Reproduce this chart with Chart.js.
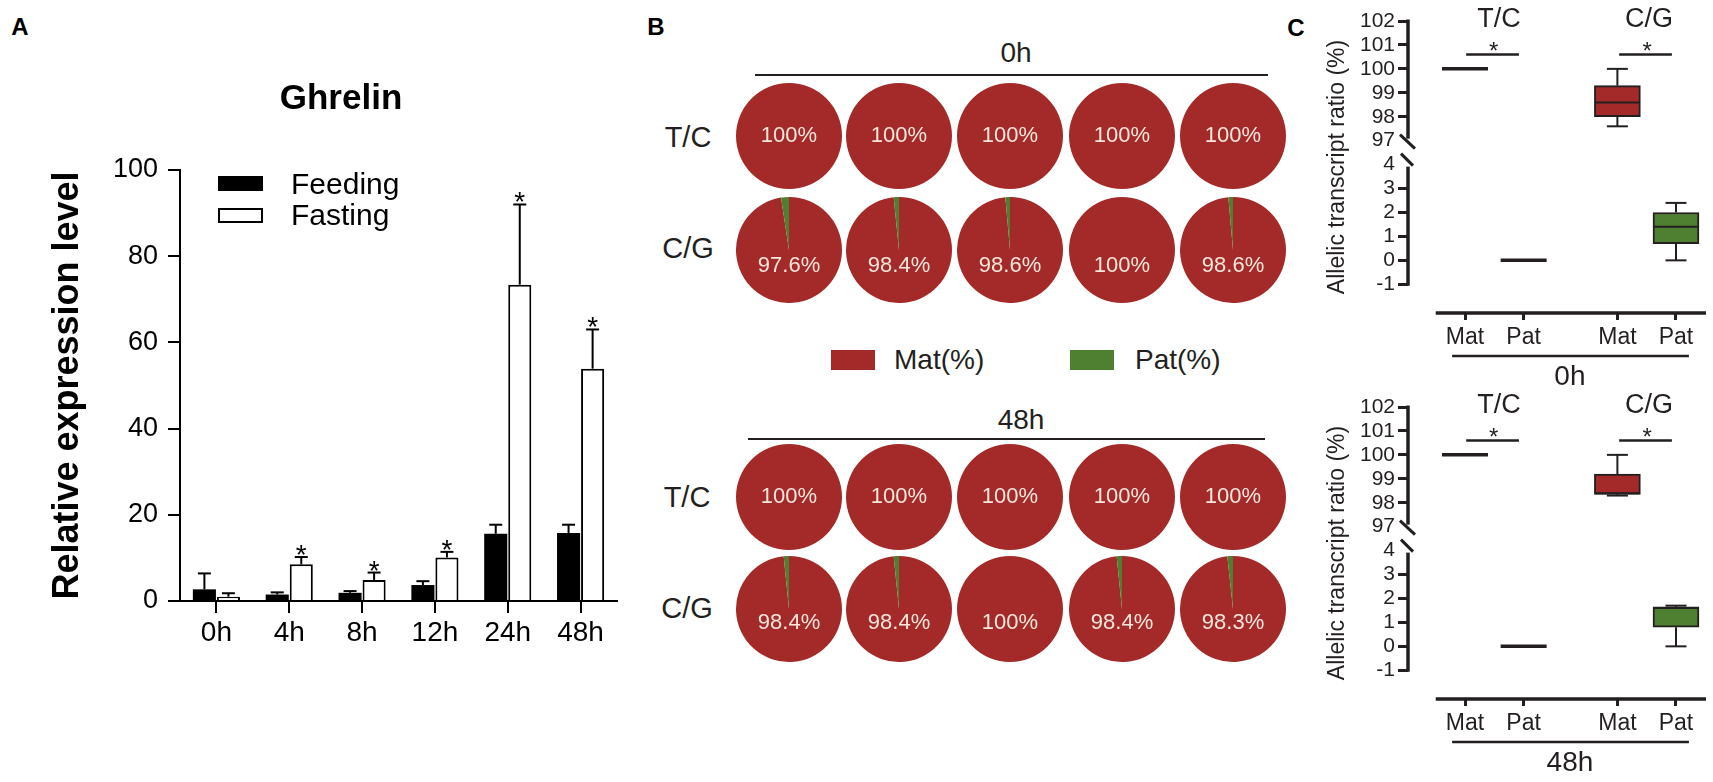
<!DOCTYPE html>
<html>
<head>
<meta charset="utf-8">
<title>Ghrelin expression and allelic transcript ratio</title>
<script src="https://cdn.jsdelivr.net/npm/chart.js@4.4.1/dist/chart.umd.min.js"></script>
<style>
  body { margin: 0; background: #fff; }
  #page { position: relative; width: 1713px; height: 782px; overflow: hidden;
          font-family: 'Liberation Sans', Arial, Helvetica, sans-serif; color: #231f20; }
  canvas { position: absolute; }
  .txt { position: absolute; line-height: 1; white-space: nowrap; transform: translate(-50%, -50%); }
  .lbl { position: absolute; line-height: 1; white-space: nowrap; transform: translateY(-50%); }
  .rule { position: absolute; height: 2px; background: #231f20; }
  .key { position: absolute; width: 44px; height: 20px; }
  .panel { font-weight: bold; font-size: 24px; color: #000; }
</style>
</head>
<body>
<div id="page">
  <div class="txt panel" style="left:20px;top:27px">A</div>
  <div class="txt panel" style="left:656px;top:27px">B</div>
  <div class="txt panel" style="left:1296px;top:28px">C</div>

  <canvas id="barA" width="640" height="782" style="left:0;top:0"></canvas>

  <!-- panel B headings -->
  <div class="txt" style="left:1016px;top:53px;font-size:28px">0h</div>
  <div class="rule" style="left:755px;top:74px;width:513px"></div>
  <div class="txt" style="left:688px;top:137px;font-size:29px">T/C</div>
  <div class="txt" style="left:688px;top:248px;font-size:29px">C/G</div>

  <div class="key" style="left:831px;top:350px;background:#a42a29"></div>
  <div class="lbl" style="left:894px;top:360px;font-size:28px">Mat(%)</div>
  <div class="key" style="left:1070px;top:350px;background:#4f7f30"></div>
  <div class="lbl" style="left:1135px;top:360px;font-size:28px">Pat(%)</div>

  <div class="txt" style="left:1021px;top:420px;font-size:28px">48h</div>
  <div class="rule" style="left:748px;top:438px;width:517px"></div>
  <div class="txt" style="left:687px;top:497px;font-size:29px">T/C</div>
  <div class="txt" style="left:687px;top:608px;font-size:29px">C/G</div>

  <canvas id="boxTop" width="433" height="392" style="left:1280px;top:0"></canvas>
  <canvas id="boxBottom" width="433" height="392" style="left:1280px;top:386px"></canvas>
</div>

<script>
// ---------- data: panel A (Ghrelin relative expression) ----------
const timeLabels = ['0h', '4h', '8h', '12h', '24h', '48h'];
const feeding    = [2.7, 1.5, 1.9, 3.7, 15.6, 15.8];
const feedingErr = [3.7, 0.5, 0.4, 0.9, 2.1, 1.9];
const fasting    = [1.0, 8.5, 4.9, 10.1, 73.4, 53.9];
const fastingErr = [0.8, 1.7, 1.7, 1.3, 18.6, 9.1];
const fastingSig = [false, true, true, true, true, true];

// ---------- data: panel B (maternal share per sample, %) ----------
const matTC0h  = [100, 100, 100, 100, 100];
const matCG0h  = [97.6, 98.4, 98.6, 100, 98.6];
const matTC48h = [100, 100, 100, 100, 100];
const matCG48h = [98.4, 98.4, 100, 98.4, 98.3];

// ---------- data: panel C (box summaries) ----------
const boxLabels = ['Mat', 'Pat', 'Mat', 'Pat'];
const boxPos    = [0, 1, 2.6, 3.6];
const box0hMin  = [100, 0, 97.6, 0];
const box0hQ1   = [100, 0, 98.0, 0.7];
const box0hMed  = [100, 0, 98.6, 1.4];
const box0hQ3   = [100, 0, 99.3, 2.0];
const box0hMax  = [100, 0, 100, 2.4];
const box48hMin = [100, 0, 98.3, 0];
const box48hQ1  = [100, 0, 98.35, 0.8];
const box48hMed = [100, 0, 98.4, 1.6];
const box48hQ3  = [100, 0, 99.2, 1.65];
const box48hMax = [100, 0, 100, 1.7];

const FONT = "'Liberation Sans', Arial, Helvetica, sans-serif";
const DARK = '#231f20';
const MAT_RED = '#a42a29';
const PAT_GREEN = '#4f7f30';

Chart.defaults.font.family = FONT;
Chart.defaults.animation = false;

function seg(ctx, x1, y1, x2, y2, w) {
    ctx.lineWidth = w;
    ctx.beginPath();
    ctx.moveTo(x1, y1);
    ctx.lineTo(x2, y2);
    ctx.stroke();
}

// ==========================================
// PANEL A: grouped bars with error bars
// ==========================================
const panelADecor = {
    id: 'panelADecor',
    afterDatasetsDraw(chart) {
        const { ctx, scales: { y } } = chart;
        ctx.save();
        ctx.strokeStyle = '#000';
        ctx.fillStyle = '#000';
        [[feeding, feedingErr], [fasting, fastingErr]].forEach(([vals, errs], di) => {
            chart.getDatasetMeta(di).data.forEach((bar, i) => {
                const top = y.getPixelForValue(vals[i]);
                const end = y.getPixelForValue(vals[i] + errs[i]);
                seg(ctx, bar.x, top, bar.x, end, 2);
                seg(ctx, bar.x - 6.5, end, bar.x + 6.5, end, 2);
                if (di === 1 && fastingSig[i]) {
                    ctx.font = `28px ${FONT}`;
                    ctx.textAlign = 'center';
                    ctx.textBaseline = 'alphabetic';
                    ctx.fillText('*', bar.x, end + 7);
                }
            });
        });

        // title
        ctx.font = `bold 35px ${FONT}`;
        ctx.textAlign = 'center';
        ctx.textBaseline = 'middle';
        ctx.fillText('Ghrelin', 341, 99);

        // legend inside the plot
        ctx.fillRect(218, 176, 45, 15);
        ctx.lineWidth = 2;
        ctx.strokeRect(219, 209, 43, 13);
        ctx.font = `30px ${FONT}`;
        ctx.textAlign = 'left';
        ctx.fillText(chart.data.datasets[0].label, 291, 186);
        ctx.fillText(chart.data.datasets[1].label, 291, 217);
        ctx.restore();
    }
};

new Chart(document.getElementById('barA'), {
    type: 'bar',
    data: {
        labels: timeLabels,
        datasets: [
            { label: 'Feeding', data: feeding, backgroundColor: '#000', borderWidth: 0 },
            { label: 'Fasting', data: fasting, backgroundColor: '#fff', borderColor: '#000', borderWidth: 2 }
        ]
    },
    options: {
        responsive: false,
        events: [],
        layout: { padding: { left: 0, top: 170, right: 23, bottom: 121 } },
        datasets: { bar: { categoryPercentage: 0.66, barPercentage: 0.96 } },
        plugins: { legend: { display: false }, tooltip: { enabled: false } },
        scales: {
            x: {
                grid: { offset: false, drawOnChartArea: false, tickLength: 12, color: '#000', lineWidth: 2 },
                border: { color: '#000', width: 2 },
                ticks: { color: '#000', font: { size: 28 }, padding: 3, maxRotation: 0 },
                afterFit: s => { s.height = 60; }
            },
            y: {
                min: 0, max: 100,
                ticks: { stepSize: 20, color: '#000', font: { size: 27 }, padding: 10 },
                grid: { drawOnChartArea: false, tickLength: 12, color: '#000', lineWidth: 2 },
                border: { color: '#000', width: 2 },
                title: {
                    display: true, text: 'Relative expression level', color: '#000',
                    font: { size: 36, weight: 'bold' }, padding: { top: 46, bottom: 0 }
                },
                afterFit: s => { s.width = 180; }
            }
        }
    },
    plugins: [panelADecor]
});

// ==========================================
// PANEL B: pie grid
// ==========================================
const pieX = [789, 899, 1010, 1122, 1233];
const pieRows = [
    { cy: 136, mats: matTC0h, dy: 0 },
    { cy: 250, mats: matCG0h, dy: 16 },
    { cy: 497, mats: matTC48h, dy: 0 },
    { cy: 609, mats: matCG48h, dy: 14 }
];

function pieLabel(text, dy) {
    return {
        id: 'pieLabel',
        afterDatasetsDraw(chart) {
            const { ctx, chartArea } = chart;
            ctx.save();
            ctx.font = `22px ${FONT}`;
            ctx.fillStyle = '#f6e6dc';
            ctx.textAlign = 'center';
            ctx.textBaseline = 'middle';
            ctx.fillText(text, (chartArea.left + chartArea.right) / 2, (chartArea.top + chartArea.bottom) / 2 + dy);
            ctx.restore();
        }
    };
}

const page = document.getElementById('page');
pieRows.forEach(row => {
    row.mats.forEach((mat, i) => {
        const cv = document.createElement('canvas');
        cv.width = 106;
        cv.height = 106;
        cv.style.left = (pieX[i] - 53) + 'px';
        cv.style.top = (row.cy - 53) + 'px';
        page.appendChild(cv);
        new Chart(cv, {
            type: 'pie',
            data: {
                labels: ['Mat(%)', 'Pat(%)'],
                datasets: [{
                    data: [mat, 100 - mat],
                    backgroundColor: [MAT_RED, PAT_GREEN],
                    borderWidth: 0, hoverOffset: 0
                }]
            },
            options: {
                responsive: false, events: [],
                layout: { padding: 0 },
                plugins: { legend: { display: false }, tooltip: { enabled: false } }
            },
            plugins: [pieLabel(mat + '%', row.dy)]
        });
    });
});

// ==========================================
// PANEL C: box plots on a broken y axis
// ==========================================
const LinearBase = Chart.LinearScale || Chart.registry.getScale('linear');

// values above 50 sit on the upper segment (97-102), placed one unit above 4
class BrokenScale extends LinearBase {
    static id = 'broken';
    static defaults = LinearBase.defaults;
    getPixelForValue(value) {
        return super.getPixelForValue(value > 50 ? value - 92 : value);
    }
}
Chart.register(BrokenScale);

const yTicks = [-1, 0, 1, 2, 3, 4, 97, 98, 99, 100, 101, 102];
const boxFill = ['rgba(0,0,0,0)', 'rgba(0,0,0,0)', MAT_RED, PAT_GREEN];

function makeBoxChart(id, st, groupName) {
    const decor = {
        id: 'boxDecor',
        afterDatasetsDraw(chart) {
            const { ctx, chartArea, scales: { x, y } } = chart;
            ctx.save();
            ctx.strokeStyle = DARK;
            ctx.fillStyle = DARK;

            boxPos.forEach((p, i) => {
                const cx = x.getPixelForValue(p);
                const md = y.getPixelForValue(st.med[i]);
                if (st.q1[i] === st.q3[i]) {
                    seg(ctx, cx - 23, md, cx + 23, md, 3.5);
                    return;
                }
                const q1 = y.getPixelForValue(st.q1[i]);
                const q3 = y.getPixelForValue(st.q3[i]);
                const lo = y.getPixelForValue(st.min[i]);
                const hi = y.getPixelForValue(st.max[i]);
                seg(ctx, cx, q3, cx, hi, 2);
                seg(ctx, cx - 10.5, hi, cx + 10.5, hi, 2);
                seg(ctx, cx, q1, cx, lo, 2);
                seg(ctx, cx - 10.5, lo, cx + 10.5, lo, 2);
                seg(ctx, cx - 22, md, cx + 22, md, 2);
            });

            // y axis in two pieces with break marks
            const ax = chartArea.left;
            const p102 = y.getPixelForValue(102), p97 = y.getPixelForValue(97);
            const p4 = y.getPixelForValue(4), pm1 = y.getPixelForValue(-1);
            seg(ctx, ax, p102 - 1.5, ax, p97 - 2, 3.5);
            seg(ctx, ax, p4 + 2, ax, pm1 + 1.5, 3.5);
            seg(ctx, ax - 8, p97 - 6, ax + 7, p97 + 8, 3);
            seg(ctx, ax - 7, p4 - 11, ax + 5, p4 + 1, 3);

            // offset x axis
            const bottom = chartArea.bottom;
            seg(ctx, x.getPixelForValue(-0.5), bottom, chartArea.right, bottom, 3.5);

            // group rule and time label
            seg(ctx, x.getPixelForValue(-0.22), bottom + 43, x.getPixelForValue(3.82), bottom + 43, 2.5);
            ctx.textAlign = 'center';
            ctx.textBaseline = 'middle';
            ctx.font = `28px ${FONT}`;
            ctx.fillText(groupName, x.getPixelForValue(1.79), bottom + 64);

            // SNP headings and significance bars
            ctx.font = `27px ${FONT}`;
            ctx.fillText('T/C', x.getPixelForValue(0.58), p102 - 1);
            ctx.fillText('C/G', x.getPixelForValue(3.14), p102 - 1);
            const py = y.getPixelForValue(100.6);
            seg(ctx, x.getPixelForValue(0.02), py, x.getPixelForValue(0.92), py, 2.5);
            seg(ctx, x.getPixelForValue(2.63), py, x.getPixelForValue(3.53), py, 2.5);
            ctx.font = `24px ${FONT}`;
            ctx.textBaseline = 'alphabetic';
            ctx.fillText('*', x.getPixelForValue(0.49), py + 4);
            ctx.fillText('*', x.getPixelForValue(3.11), py + 4);
            ctx.restore();
        }
    };

    return new Chart(document.getElementById(id), {
        type: 'bar',
        data: {
            datasets: [{
                data: boxPos.map((p, i) => ({ x: p, y: [st.q1[i], st.q3[i]] })),
                backgroundColor: boxFill,
                borderColor: DARK,
                borderWidth: 2,
                borderSkipped: false,
                barThickness: 46
            }]
        },
        options: {
            responsive: false, events: [],
            layout: { padding: { left: 0, top: 21, right: 7, bottom: 29 } },
            plugins: { legend: { display: false }, tooltip: { enabled: false } },
            scales: {
                x: {
                    type: 'linear', position: 'bottom', offset: false, bounds: 'data',
                    min: -0.973, max: 4.112,
                    afterBuildTicks: s => { s.ticks = boxPos.map(v => ({ value: v })); },
                    ticks: { autoSkip: false, maxRotation: 0, color: DARK, font: { size: 23 }, padding: 4,
                             callback: (v, i) => boxLabels[i] },
                    grid: { offset: false, drawOnChartArea: false, tickLength: 7, color: DARK, lineWidth: 3 },
                    border: { display: false },
                    afterFit: s => { s.height = 50; }
                },
                y: {
                    type: 'broken', bounds: 'data',
                    min: -2.2, max: 10,
                    afterBuildTicks: s => { s.ticks = yTicks.map(v => ({ value: v })); },
                    ticks: { autoSkip: false, color: DARK, font: { size: 21 }, padding: 3,
                             callback: v => String(v) },
                    grid: {
                        drawOnChartArea: false, tickLength: 10, lineWidth: 3, color: DARK,
                        tickColor: c => (c.tick && (c.tick.value === 97 || c.tick.value === 4)) ? 'rgba(0,0,0,0)' : DARK
                    },
                    border: { display: false },
                    title: {
                        display: true, text: 'Allelic transcript ratio (%)', color: DARK,
                        font: { size: 23 }, padding: { top: 44, bottom: 0 }
                    },
                    afterFit: s => { s.width = 128; }
                }
            }
        },
        plugins: [decor]
    });
}

makeBoxChart('boxTop', { min: box0hMin, q1: box0hQ1, med: box0hMed, q3: box0hQ3, max: box0hMax }, '0h');
makeBoxChart('boxBottom', { min: box48hMin, q1: box48hQ1, med: box48hMed, q3: box48hQ3, max: box48hMax }, '48h');
</script>
</body>
</html>
